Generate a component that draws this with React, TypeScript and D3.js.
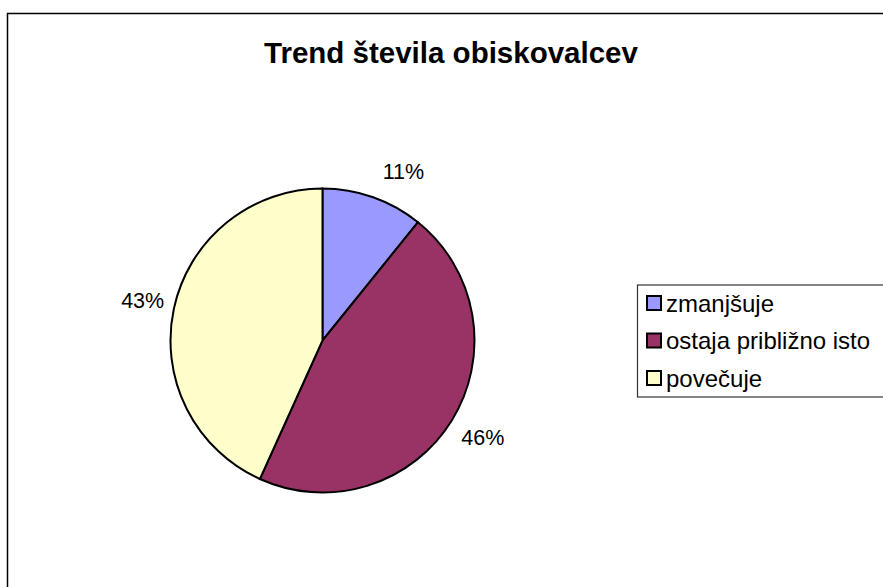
import React from "react";
import * as d3 from "d3";

const categories = ["zmanjšuje", "ostaja približno isto", "povečuje"];
const values = [8, 34, 32];
const colors = ["#9999FF", "#993366", "#FFFFCC"];
const labelNudge = [[19, 7], [2, 0], [2, 0]];

const W = 883;
const H = 587;
const font = "'Liberation Sans', Arial, sans-serif";

export default function App() {
  const cx = 322.5;
  const cy = 340.5;
  const r = 152;
  const total = d3.sum(values);
  const pie = d3.pie<number>().sort(null).value((d) => d);
  const arcs = pie(values);
  const arcGen = d3.arc<d3.PieArcDatum<number>>().innerRadius(0).outerRadius(r);
  const labelR = 186;

  const legendX = 637.5;
  const legendY = 285;
  const rowH = 37.5;

  return (
    <svg
      width={W}
      height={H}
      style={{ position: "absolute", left: 0, top: 0, background: "#fff" }}
    >
      <rect x={7.5} y={13.5} width={1000} height={1000} fill="#fff" stroke="#000" strokeWidth={1.5} />
      <text
        x={451}
        y={63}
        textAnchor="middle"
        fontFamily={font}
        fontWeight="bold"
        fontSize={29.5}
        fill="#000"
      >
        Trend števila obiskovalcev
      </text>
      <g transform={`translate(${cx},${cy})`}>
        {arcs.map((a, i) => (
          <path key={i} d={arcGen(a) || ""} fill={colors[i]} stroke="#000" strokeWidth={2} />
        ))}
        {arcs.map((a, i) => {
          const mid = (a.startAngle + a.endAngle) / 2;
          const x = Math.sin(mid) * labelR + labelNudge[i][0];
          const y = -Math.cos(mid) * labelR + labelNudge[i][1];
          return (
            <text
              key={"l" + i}
              x={x}
              y={y}
              textAnchor="middle"
              dominantBaseline="central"
              fontFamily={font}
              fontSize={21.5}
              fill="#000"
            >
              {d3.format(".0%")(values[i] / total)}
            </text>
          );
        })}
      </g>
      <rect x={legendX} y={legendY} width={400} height={112} fill="#fff" stroke="#333" strokeWidth={1.2} />
      {categories.map((c, i) => {
        const yc = legendY + 18 + i * rowH;
        return (
          <g key={c}>
            <rect x={647} y={yc - 7} width={14} height={14} fill={colors[i]} stroke="#000" strokeWidth={2} />
            <text x={666} y={yc} dominantBaseline="central" fontFamily={font} fontSize={24} fill="#000">
              {c}
            </text>
          </g>
        );
      })}
    </svg>
  );
}
